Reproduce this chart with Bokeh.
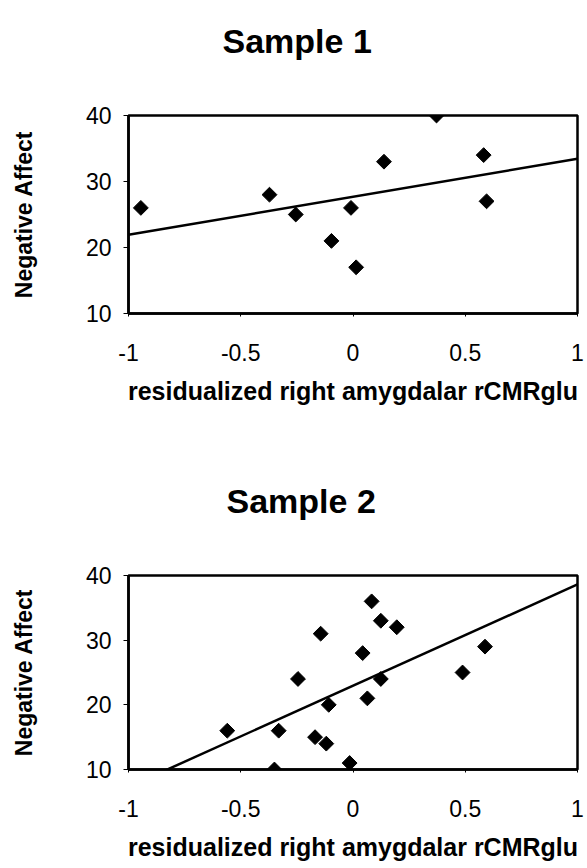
import numpy as np
from bokeh.plotting import figure
from bokeh.models import Range1d, FixedTicker, CustomJSTickFormatter, Title, LinearAxis
from bokeh.layouts import column
from bokeh.embed import file_html
from bokeh.resources import INLINE

# ---- data ----
titles = ["Sample 1", "Sample 2"]
x_label = "residualized right amygdalar rCMRglu"
y_label = "Negative Affect"
x_ticks = [-1, -0.5, 0, 0.5, 1]
y_ticks = [10, 20, 30, 40]

s1_x = [-0.945, -0.372, -0.255, -0.096, -0.009, 0.014, 0.138, 0.372, 0.582, 0.595]
s1_y = [26, 28, 25, 21, 26, 17, 33, 40, 34, 27]

s2_x = [-0.560, -0.350, -0.331, -0.245, -0.169, -0.144, -0.119, -0.108, -0.015,
        0.043, 0.064, 0.083, 0.124, 0.124, 0.195, 0.488, 0.588]
s2_y = [16, 10, 16, 24, 15, 31, 14, 20, 11, 28, 21, 36, 33, 24, 32, 25, 29]

FONT = "Liberation Sans"


def make_panel(xs, ys, title, width, height, left, right, top, bottom, title_offset, title_gap):
    p = figure(width=width, height=height, output_backend="svg", toolbar_location=None,
               x_range=Range1d(-1, 1), y_range=Range1d(10, 40),
               min_border_left=left, min_border_right=right,
               min_border_top=top, min_border_bottom=bottom)
    xax, yax = p.below[0], p.left[0]

    # invisible spacer axis above the frame, so that the title sits higher
    spacer = LinearAxis(ticker=FixedTicker(ticks=[0]), axis_line_color=None,
                        major_tick_line_color=None, minor_tick_line_color=None,
                        major_tick_out=title_gap, major_tick_in=0, minor_tick_out=0,
                        major_label_standoff=0, major_label_text_font_size="1px",
                        formatter=CustomJSTickFormatter(code="return ''"))
    p.add_layout(spacer, "above")
    p.add_layout(Title(text=title, align="left", offset=title_offset,
                       text_font=FONT, text_font_size="34px", text_font_style="bold",
                       text_color="black", standoff=0), "above")
    p.grid.visible = False
    p.background_fill_color = "white"
    p.border_fill_color = "white"
    p.outline_line_color = "black"
    p.outline_line_width = 2.5

    xax.ticker = FixedTicker(ticks=x_ticks)
    yax.ticker = FixedTicker(ticks=y_ticks)
    xax.formatter = CustomJSTickFormatter(code="return tick.toString()")
    yax.formatter = CustomJSTickFormatter(code="return tick.toString()")
    for ax in (xax, yax):
        ax.axis_line_color = "black"
        ax.axis_line_width = 2.5
        ax.major_tick_line_color = "black"
        ax.major_tick_line_width = 1
        ax.major_tick_in = 0
        ax.minor_tick_line_color = None
        ax.major_label_text_font = FONT
        ax.major_label_text_font_size = "23px"
        ax.major_label_text_color = "black"
        ax.axis_label_text_font = FONT
        ax.axis_label_text_font_style = "bold"
        ax.axis_label_text_color = "black"
    xax.major_tick_out = 3
    yax.major_tick_out = 5
    xax.major_label_standoff = 27
    yax.major_label_standoff = 12
    xax.axis_label = x_label
    yax.axis_label = y_label
    xax.axis_label_text_font_size = "25px"
    yax.axis_label_text_font_size = "23px"
    xax.axis_label_standoff = 13
    yax.axis_label_standoff = 46

    # least-squares trend line from the data
    slope, intercept = np.polyfit(xs, ys, 1)
    x0, x1 = x_ticks[0], x_ticks[-1]
    p.line([x0, x1], [intercept + slope * x0, intercept + slope * x1],
           line_color="black", line_width=2.5)
    p.scatter(xs, ys, marker="square", angle=np.pi / 4, size=10.5,
              fill_color="black", line_color="black")
    return p


p1 = make_panel(s1_x, s1_y, titles[0], 587, 440, 128, 10, 115, 127, 94, 56)
p2 = make_panel(s2_x, s2_y, titles[1], 587, 428, 123, 6, 135, 99, 98, 56)

layout = column(p1, p2, spacing=0)
open("out.html", "w").write(file_html(layout, INLINE))
